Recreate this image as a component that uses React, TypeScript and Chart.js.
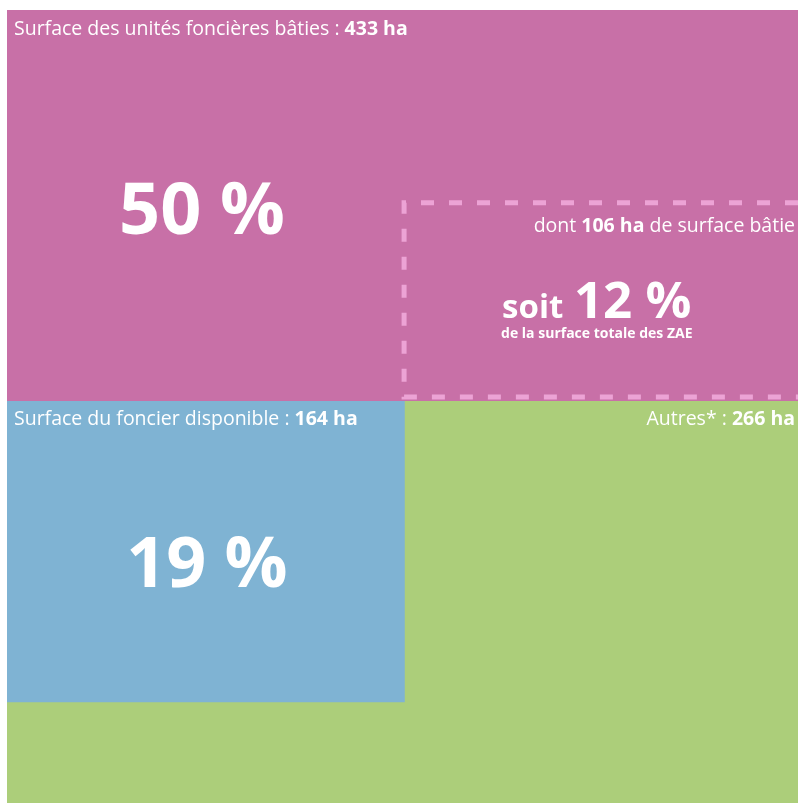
import React, { useEffect, useRef } from "react";
import { Chart, registerables } from "chart.js";

Chart.register(...registerables);

// Categories and values (hectares and shares of the total ZAE surface)
const categories = ["Surface des unités foncières bâties", "Surface du foncier disponible", "Autres*"];
const hectares = [433, 164, 266];
const shares = [50, 19, 31];
const builtHectares = 106;
const builtShare = 12;

// Extents of each block in the unit square (0..100)
const builtLandY = [50.7, 100];       // pink band, full width
const availableX = [0, 50.3];          // blue block
const availableY = [12.7, 50.7];
const builtSubsetX = [50.2, 100];      // dashed box
const builtSubsetY = [51.2, 75.7];

const PINK = "#C870A7";
const BLUE = "#7FB3D3";
const GREEN = "#ACCE7A";
const DASH = "#ECA3D5";
const FONT = "'Open Sans', sans-serif";

const textPlugin = {
  id: "blockText",
  afterDatasetsDraw(chart: any) {
    const { ctx } = chart;
    const xs = chart.scales.x;
    const ys = chart.scales.y;
    const px = (v: number) => xs.getPixelForValue(v);
    const py = (v: number) => ys.getPixelForValue(v);
    ctx.save();
    ctx.fillStyle = "#ffffff";
    ctx.textBaseline = "middle";

    const mixed = (parts: [string, string][], x: number, y: number, align: "left" | "right") => {
      let total = 0;
      const widths = parts.map(([t, f]) => {
        ctx.font = f;
        const w = ctx.measureText(t).width;
        total += w;
        return w;
      });
      let cx = align === "left" ? x : x - total;
      ctx.textAlign = "left";
      parts.forEach(([t, f], i) => {
        ctx.font = f;
        ctx.fillText(t, cx, y);
        cx += widths[i];
      });
    };

    const reg = `19.5px ${FONT}`;
    const bold = `bold 19.5px ${FONT}`;

    // Built land title
    mixed([[categories[0] + " : ", reg], [hectares[0] + " ha", bold]], px(0) + 7, py(builtLandY[1]) + 19, "left");
    // Available land title
    mixed([[categories[1] + " : ", reg], [hectares[1] + " ha", bold]], px(availableX[0]) + 7, py(availableY[1]) + 18, "left");
    // Others title
    mixed([[categories[2] + " : ", reg], [hectares[2] + " ha", bold]], px(100) - 3, py(availableY[1]) + 18, "right");
    // Built subset title
    mixed([["dont ", reg], [builtHectares + " ha", bold], [" de surface bâtie", reg]], px(100) - 3, py(builtSubsetY[1]) + 24, "right");

    // Big percentages
    ctx.textAlign = "center";
    ctx.font = `bold 72px ${FONT}`;
    ctx.fillText(shares[0] + " %", (px(0) + px(availableX[1])) / 2 - 4, (py(100) + py(builtLandY[0])) / 2 + 8);
    ctx.font = `bold 70px ${FONT}`;
    ctx.fillText(shares[1] + " %", (px(availableX[0]) + px(availableX[1])) / 2 + 1, (py(availableY[0]) + py(availableY[1])) / 2 + 15);

    // soit 12 %
    ctx.textBaseline = "alphabetic";
    const baseY = py(builtSubsetY[0]) - 79;
    const startX = px(builtSubsetX[0]) + 98;
    ctx.textAlign = "left";
    ctx.font = `bold 33px ${FONT}`;
    ctx.fillText("soit", startX, baseY);
    const w1 = ctx.measureText("soit ").width;
    ctx.font = `bold 51px ${FONT}`;
    ctx.fillText(builtShare + " %", startX + w1 + 2, baseY);
    ctx.font = `bold 14px ${FONT}`;
    ctx.textBaseline = "middle";
    ctx.fillText("de la surface totale des ZAE", startX - 1, baseY + 16);
    ctx.restore();
  },
};

export default function App() {
  const ref = useRef<HTMLCanvasElement>(null);
  useEffect(() => {
    if (!ref.current) return;
    const line = (pts: { x: number; y: number }[], extra: any) => ({
      type: "line",
      data: pts,
      showLine: true,
      pointRadius: 0,
      borderWidth: 0,
      borderColor: "rgba(0,0,0,0)",
      tension: 0,
      ...extra,
    });
    const chart = new Chart(ref.current, {
      type: "scatter",
      data: {
        datasets: [
          line([{ x: 0, y: 100 }, { x: 100, y: 100 }], { label: categories[2], backgroundColor: GREEN, fill: "origin", order: 4 }),
          line([{ x: 0, y: builtLandY[1] }, { x: 100, y: builtLandY[1] }], {
            label: categories[0], backgroundColor: PINK, fill: { value: builtLandY[0] }, order: 3,
          }),
          line([{ x: availableX[0], y: availableY[1] }, { x: availableX[1], y: availableY[1] }], {
            label: categories[1], backgroundColor: BLUE, fill: { value: availableY[0] }, order: 2,
          }),
          line(
            [
              { x: 100, y: builtSubsetY[1] },
              { x: builtSubsetX[0], y: builtSubsetY[1] },
              { x: builtSubsetX[0], y: builtSubsetY[0] },
              { x: 100, y: builtSubsetY[0] },
            ],
            { label: "dont surface bâtie", borderColor: DASH, borderWidth: 5, borderDash: [13, 15], borderDashOffset: 0, fill: false, order: 1 }
          ),
        ] as any,
      },
      options: {
        animation: false,
        responsive: true,
        maintainAspectRatio: false,
        layout: { padding: { left: 7, top: 10, right: 0, bottom: 0 } },
        plugins: { legend: { display: false }, tooltip: { enabled: false } },
        scales: {
          x: { type: "linear", min: 0, max: 100, display: false },
          y: { type: "linear", min: 0, max: 100, display: false },
        },
      } as any,
      plugins: [textPlugin],
    });
    return () => chart.destroy();
  }, []);
  return (
    <div style={{ position: "absolute", left: 0, top: 0, width: 798, height: 803 }}>
      <canvas ref={ref} />
    </div>
  );
}
